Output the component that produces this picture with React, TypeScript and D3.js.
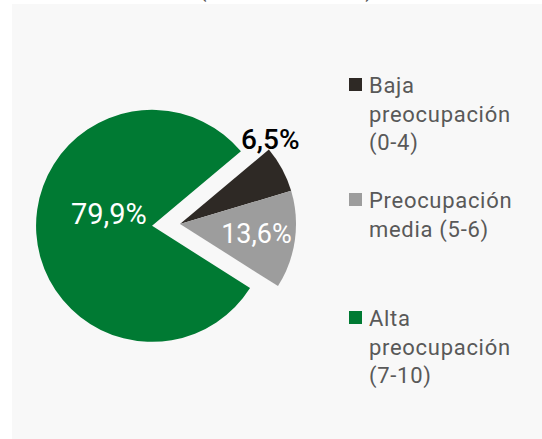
import * as d3 from "d3"
import { useEffect, useRef } from "react"

const categories = ["Baja preocupación (0-4)", "Preocupación media (5-6)", "Alta preocupación (7-10)"]
const values = [6.5, 13.6, 79.9]
const valueLabels = ["6,5%", "13,6%", "79,9%"]
const legendLines = [
  ["Baja", "preocupación", "(0-4)"],
  ["Preocupación", "media (5-6)"],
  ["Alta", "preocupación", "(7-10)"],
]
const colors = ["#2e2925", "#9d9d9d", "#007a33"]

const W = 542
const H = 439

export default function App() {
  const svgRef = useRef<SVGSVGElement>(null)

  useEffect(() => {
    if (!svgRef.current) return
    d3.select(svgRef.current).selectAll("*").remove()

    const svg = d3.select(svgRef.current).attr("width", W).attr("height", H)

    // panel background
    svg.append("rect").attr("width", W).attr("height", H).attr("fill", "#ffffff")
    svg.append("rect").attr("x", 12).attr("y", 4).attr("width", W - 12).attr("height", H - 4).attr("fill", "#f8f8f8")

    // title, mostly cut off at the top
    svg.append("text")
      .attr("x", 286)
      .attr("y", -3)
      .attr("text-anchor", "middle")
      .style("font-family", "Roboto, sans-serif")
      .style("font-size", "22px")
      .style("fill", "#595959")
      .text("(escala de 0 a 10)")

    const radius = 116
    const cx = 180
    const cy = 224
    const explode = 28
    const startAngle = (50 * Math.PI) / 180

    const pie = d3.pie<number>().sort(null).value((d) => d)
      .startAngle(startAngle).endAngle(startAngle + 2 * Math.PI)
    const arcs = pie(values)
    const arc = d3.arc<d3.PieArcDatum<number>>().innerRadius(0).outerRadius(radius)

    const g = svg.append("g").attr("transform", `translate(${cx},${cy})`)

    // only the big slice is pulled out of the pie
    const offset = (d: d3.PieArcDatum<number>, i: number) => {
      if (i !== 2) return [0, 0]
      const mid = (d.startAngle + d.endAngle) / 2
      return [Math.sin(mid) * explode, -Math.cos(mid) * explode]
    }

    g.selectAll("path.slice")
      .data(arcs)
      .enter()
      .append("path")
      .attr("class", "slice")
      .attr("transform", (d, i) => `translate(${offset(d, i).join(",")})`)
      .attr("d", (d) => arc(d))
      .attr("fill", (d, i) => colors[i])

    // label placement: radius + angle nudge (degrees)
    const labelCfg = [
      { r: 124, da: -15, color: "#000000", size: 28, weight: 500 },
      { r: 77, da: -1, color: "#ffffff", size: 27, weight: 400 },
      { r: 45, da: 20, color: "#ffffff", size: 29, weight: 400 },
    ]

    arcs.forEach((d, i) => {
      const c = labelCfg[i]
      const a = (d.startAngle + d.endAngle) / 2 + (c.da * Math.PI) / 180
      const [ox, oy] = offset(d, i)
      const x = ox + Math.sin(a) * c.r
      const y = oy - Math.cos(a) * c.r
      g.append("text")
        .attr("x", x)
        .attr("y", y)
        .attr("dy", "0.36em")
        .attr("text-anchor", "middle")
        .style("font-family", "Roboto, sans-serif")
        .style("font-size", `${c.size}px`)
        .style("font-weight", c.weight)
        .style("fill", c.color)
        .text(valueLabels[i])
    })

    // legend
    const legendTop = [93, 208, 326]
    const lineH = 28.5
    const legend = svg.append("g").attr("transform", "translate(349,0)")
    categories.forEach((name, i) => {
      const item = legend.append("g").attr("transform", `translate(0,${legendTop[i]})`)
      item.append("title").text(name)
      item.append("rect")
        .attr("x", 0)
        .attr("y", -15)
        .attr("width", 13)
        .attr("height", 13)
        .attr("fill", colors[i])
      const t = item.append("text")
        .attr("x", 20)
        .style("font-family", "Roboto, sans-serif")
        .style("font-size", "22px")
        .style("letter-spacing", "0.7px")
        .style("fill", "#595959")
      legendLines[i].forEach((line, j) => {
        t.append("tspan").attr("x", 20).attr("y", j * lineH).text(line)
      })
    })
  }, [])

  return (
    <>
      <style>{"body{margin:0}"}</style>
      <svg ref={svgRef} style={{ display: "block" }} />
    </>
  )
}
